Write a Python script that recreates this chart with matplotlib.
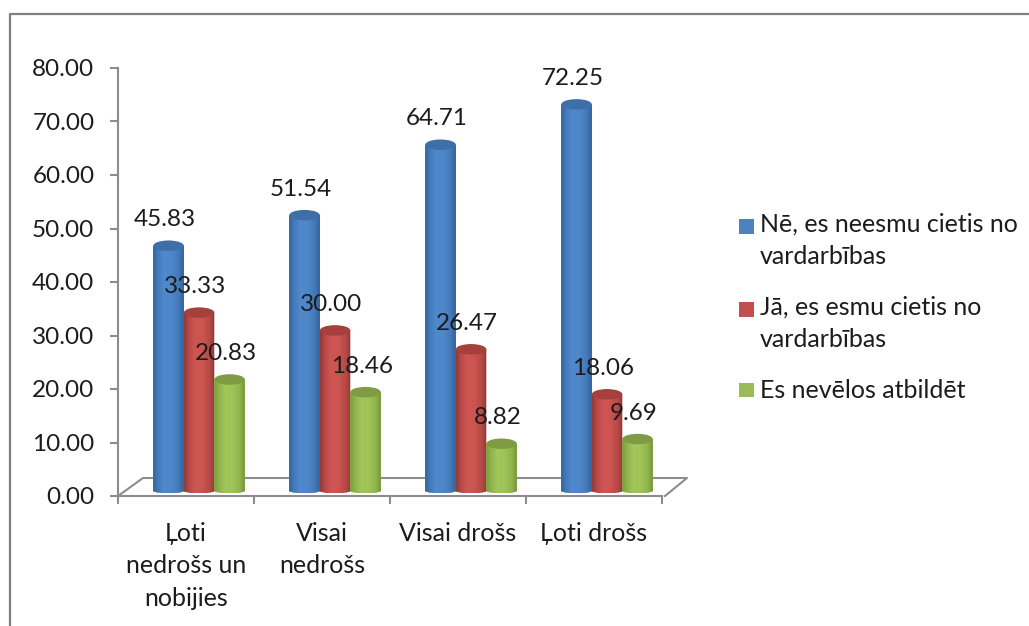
import numpy as np
import matplotlib
matplotlib.use("Agg")
import matplotlib.pyplot as plt
from matplotlib.colors import LinearSegmentedColormap
from matplotlib.lines import Line2D
from matplotlib.patches import Ellipse, Rectangle, Patch
from matplotlib.legend_handler import HandlerPatch
from matplotlib.path import Path

categories = ["Ļoti\nnedrošs un\nnobijies", "Visai\nnedrošs", "Visai drošs", "Ļoti drošs"]
series_names = ["Nē, es neesmu cietis no\nvardarbības",
                "Jā, es esmu cietis no\nvardarbības",
                "Es nevēlos atbildēt"]
ne_values = [45.83, 51.54, 64.71, 72.25]
ja_values = [33.33, 30.00, 26.47, 18.06]
nevelos_values = [20.83, 18.46, 8.82, 9.69]
y_ticks = [0, 10, 20, 30, 40, 50, 60, 70, 80]

palettes = [("#2f5f99", "#5089cc", "#3f6fa8"),
            ("#8a3633", "#cf5552", "#a5403d"),
            ("#74923a", "#a3c65a", "#7f9c45")]
legend_colors = ["#4f81bd", "#c0504d", "#9bbb59"]

W, H = 1029, 626
plt.rcParams["font.family"] = ["Lato", "DejaVu Sans"]
TXT = "#1c1c1c"
AXC = "#8c8c8c"
FS = 17.5
FS2 = 18.0

fig = plt.figure(figsize=(W / 100, H / 100), dpi=100, facecolor="white")
ax = fig.add_axes([118 / W, 1 - 496 / H, 544 / W, 428 / H])
ax.set_xlim(0, 4)
ax.set_ylim(0, 80)
ax.patch.set_alpha(0)
ux = 136.0
uy = 5.35
base = 0.95
bw = 30.5 / ux
group_shift = 0.596
ell_h = 10.5 / uy
ell_w = bw

grad = np.array([0, .12, .35, .6, .85, 1.0])
mix = np.array([0.1, 0.55, 1.0, .95, .6, .05])

for s, vals in enumerate([ne_values, ja_values, nevelos_values]):
    dark, light, top = palettes[s]
    cmap = LinearSegmentedColormap.from_list("c", [dark, light])
    for i, v in enumerate(vals):
        xc = i + group_shift + (s - 1) * bw
        bars = ax.bar(xc, v, width=bw, bottom=base, color=light, linewidth=0, zorder=3 + s, clip_on=False)
        rect = bars[0]
        bottom = Ellipse((xc, base), ell_w, ell_h * 0.4, color=dark, lw=0, zorder=3 + s, clip_on=False)
        ax.add_patch(bottom)
        xs = np.linspace(0, 1, 64)
        img = np.interp(xs, grad, mix)[None, :]
        im = ax.imshow(img, cmap=cmap, vmin=0, vmax=1, aspect="auto", zorder=3 + s + .1,
                       extent=[xc - bw / 2, xc + bw / 2, base - ell_h, base + v])
        clip = Path.make_compound_path(rect.get_path().transformed(rect.get_patch_transform()),
                                       bottom.get_path().transformed(bottom.get_patch_transform()))
        im.set_clip_path(clip, ax.transData)
        ax.add_patch(Ellipse((xc, base + v), ell_w, ell_h, color=top, lw=0, zorder=3 + s + .2, clip_on=False))
        ax.annotate(f"{v:.2f}", (xc, base + v), xytext=(-4, 26), textcoords="offset pixels",
                    ha="center", va="center", fontsize=FS, color=TXT, zorder=10, annotation_clip=False)
ax.set_xlim(0, 4)
ax.set_ylim(0, 80)

for sp in ("top", "right"):
    ax.spines[sp].set_visible(False)
for sp in ("left", "bottom"):
    ax.spines[sp].set_color(AXC)
    ax.spines[sp].set_linewidth(1.5)
ax.set_yticks(y_ticks, [f"{t:.2f}" for t in y_ticks])
ax.set_xticks([.5, 1.5, 2.5, 3.5], categories)
ax.set_xticks([0, 1, 2, 3, 4], minor=True)
ax.tick_params(axis="y", length=6, width=1.5, color=AXC, labelsize=FS, labelcolor=TXT, pad=11)
ax.tick_params(axis="x", which="major", length=0, labelsize=FS2, labelcolor=TXT, pad=18.5)
ax.tick_params(axis="x", which="minor", length=6, width=1.5, color=AXC)
for lab in ax.get_xticklabels():
    lab.set_linespacing(1.5)

# 3-D floor outline
dx, dy = 25 / ux, 18 / uy
ax.plot([0, dx, 4 + dx, 4 + 3 / ux], [0, dy, dy, 0], color=AXC, lw=1.5, clip_on=False, zorder=1)

# outer frame
fig.add_artist(Line2D([9.5 / W, 9.5 / W, 1], [0, 1 - 13.5 / H, 1 - 13.5 / H], color="#7f7f7f", lw=1.6))

class Shifted(HandlerPatch):
    def create_artists(self, legend, orig_handle, xdescent, ydescent, width, height, fontsize, trans):
        shift = 16 if "\n" in orig_handle.get_label() else 0
        r = Rectangle((0, shift * 0.72 + 0.5), 10.5, 10.5, facecolor=orig_handle.get_facecolor(), lw=0, transform=trans)
        return [r]

handles = [Patch(facecolor=c, label=n) for c, n in zip(legend_colors, series_names)]
leg = ax.legend(handles=handles, labels=series_names, loc="upper left",
                bbox_to_anchor=(739 / W, 1 - 213 / H), bbox_transform=fig.transFigure,
                frameon=False, fontsize=FS2, labelcolor=TXT, handlelength=0.6, handletextpad=0.23,
                labelspacing=1.1, borderpad=0, borderaxespad=0,
                handler_map={Patch: Shifted()})
for t in leg.get_texts():
    t.set_linespacing(1.5)

fig.savefig("out.png", dpi=100)
